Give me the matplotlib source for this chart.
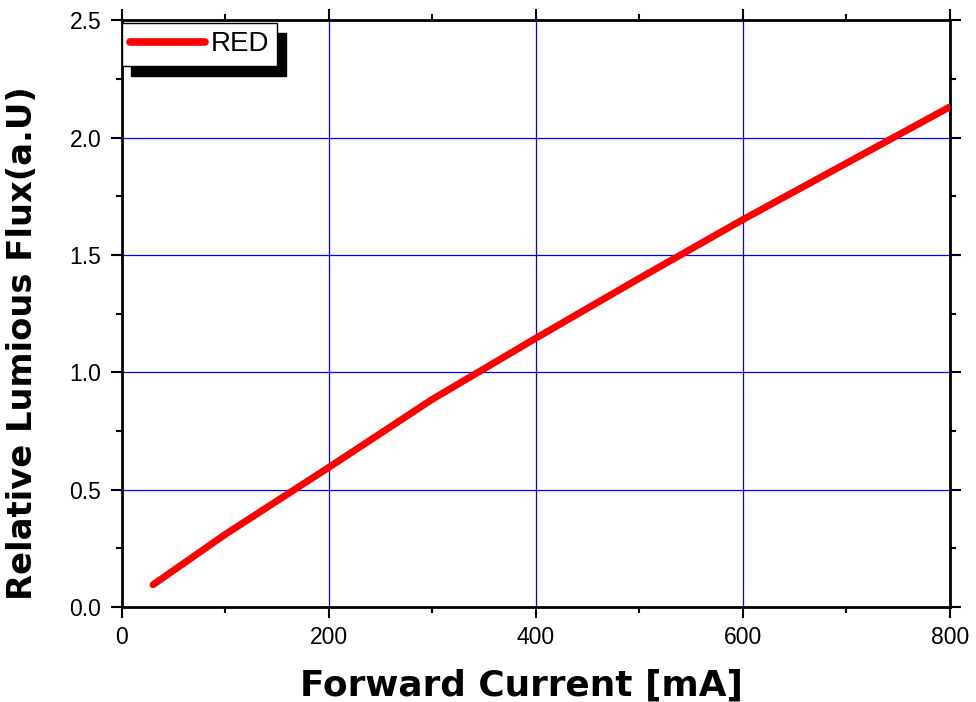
import matplotlib
matplotlib.use("Agg")
import matplotlib.pyplot as plt
from matplotlib.patches import Rectangle
from matplotlib.ticker import MultipleLocator, FormatStrFormatter

# values
current_ma = [30, 100, 200, 300, 400, 500, 600, 700, 800]
rel_flux = [0.095, 0.31, 0.595, 0.885, 1.145, 1.40, 1.65, 1.89, 2.13]
series_name = "RED"
x_label = "Forward Current [mA]"
y_label = "Relative Lumious Flux(a.U)"

plt.rcParams["font.family"] = ["Liberation Sans", "DejaVu Sans"]

fig = plt.figure(figsize=(9.76, 7.02), dpi=100)
ax = fig.add_axes([0.125, 0.1353, 0.848, 0.836])

ax.plot(current_ma, rel_flux, color="red", lw=5, solid_capstyle="round",
        label=series_name, zorder=3)

ax.set_xlim(0, 800)
ax.set_ylim(0, 2.5)
ax.xaxis.set_major_locator(MultipleLocator(200))
ax.xaxis.set_minor_locator(MultipleLocator(100))
ax.yaxis.set_major_locator(MultipleLocator(0.5))
ax.yaxis.set_minor_locator(MultipleLocator(0.25))
ax.yaxis.set_major_formatter(FormatStrFormatter("%.1f"))

ax.grid(True, which="major", color="blue", lw=0.9, zorder=1)
ax.set_axisbelow(True)

for s in ax.spines.values():
    s.set_linewidth(2)
    s.set_color("black")

ax.tick_params(which="both", direction="out", top=True, right=True,
               width=1.5, labelsize=16.5, pad=6)
ax.tick_params(which="major", length=8)
ax.tick_params(which="minor", length=4)
ax.tick_params(axis="y", pad=7)
ax.tick_params(labeltop=False, labelright=False)

ax.set_xlabel(x_label, family="DejaVu Sans", fontweight="bold", fontsize=25.8)
ax.set_ylabel(y_label, family="DejaVu Sans", fontweight="bold", fontsize=24.3)
ax.xaxis.set_label_coords(0.483, -0.105)
ax.yaxis.set_label_coords(-0.1, 0.45)

leg = ax.legend(loc="upper left", bbox_to_anchor=(0.0, 0.995), borderaxespad=0,
                fontsize=20, handlelength=2.7, handletextpad=0.18, borderpad=0.3,
                fancybox=False, framealpha=1, edgecolor="black")
leg.get_frame().set_linewidth(1.0)
for h in leg.get_lines():
    h.set_linewidth(5.5)

# hard black drop shadow behind the legend box
fig.canvas.draw()
bb = leg.get_window_extent()
shadow = Rectangle((bb.x0 + 9, bb.y0 - 10), bb.width, bb.height, transform=None,
                   facecolor="black", edgecolor="black", zorder=4.5, clip_on=False)
ax.add_artist(shadow)

fig.savefig("out.png", dpi=100)
